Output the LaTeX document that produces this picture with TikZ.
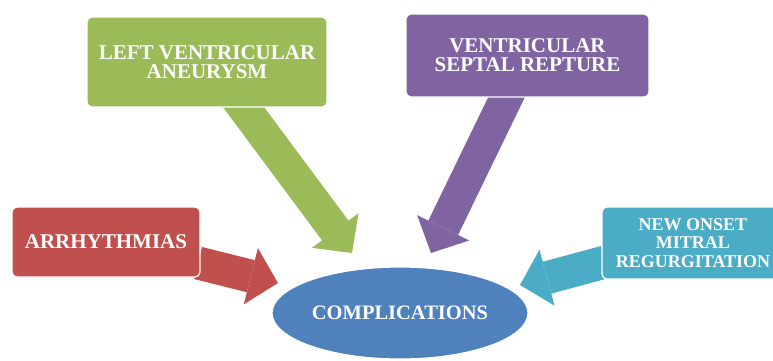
\documentclass[tikz,border=0pt]{standalone}
\usepackage{fontspec}
\setmainfont{Liberation Serif}
\usepackage{xcolor}
\usetikzlibrary{shapes.geometric, arrows.meta, calc, backgrounds, positioning}
\definecolor{cxred}{HTML}{C0504D}
\definecolor{cxgreen}{HTML}{9BBB59}
\definecolor{cxpurple}{HTML}{8064A2}
\definecolor{cxteal}{HTML}{4BACC6}
\definecolor{cxblue}{HTML}{4F81BD}
\tikzstyle{cause} = [rectangle, rounded corners=2.5pt, draw=white, line width=0.6pt, text=white, align=center, inner sep=0pt, font=\bfseries\fontsize{10.5}{9.5}\selectfont]
\tikzstyle{hub} = [ellipse, fill=cxblue, draw=white, line width=0.6pt, text=white, inner sep=0pt, minimum width=128pt, minimum height=46pt, font=\bfseries\fontsize{10.25}{10}\selectfont]
\tikzstyle{blockarrow} = [line width=16.5pt, -{Triangle[length=14pt,width=29pt,line width=0pt]}]

\begin{document}
\begin{tikzpicture}[x=0.5pt, y=-0.5pt]
  \useasboundingbox (0,0) rectangle (773,360);
  \node (arrh) [cause, fill=cxred, minimum width=94pt, minimum height=35pt] at (106,242) {ARRHYTHMIAS};
  \node (lva) [cause, fill=cxgreen, minimum width=120pt, minimum height=45pt] at (207,62) {LEFT VENTRICULAR\\ANEURYSM};
  \node (vsr) [cause, fill=cxpurple, minimum width=121.5pt, minimum height=41.5pt] at (527.5,55.5) {VENTRICULAR\\SEPTAL REPTURE};
  % box runs past the right edge, text kept inside
  \node (mitral) [cause, fill=cxteal, minimum width=91pt, minimum height=36pt, font=\bfseries\fontsize{9}{9.25}\selectfont] at (693,243) {NEW ONSET\\MITRAL\\REGURGITATION};
  \node (comp) [hub] at (400,313) {COMPLICATIONS};

  \begin{scope}[on background layer]
    \draw[blockarrow, cxred] ($(arrh.center)+(92,21)$) -- ($(comp.center)+(-122,-30)$);
    \draw[blockarrow, cxgreen] ($(lva.center)+(29,35)$) -- ($(comp.center)+(-48,-60)$);
    \draw[blockarrow, cxpurple] ($(vsr.center)+(-16.5,32.5)$) -- ($(comp.center)+(31,-60)$);
    \draw[blockarrow, cxteal] ($(mitral.center)+(-88,19)$) -- ($(comp.center)+(120,-28)$);
  \end{scope}
\end{tikzpicture}
\end{document}
